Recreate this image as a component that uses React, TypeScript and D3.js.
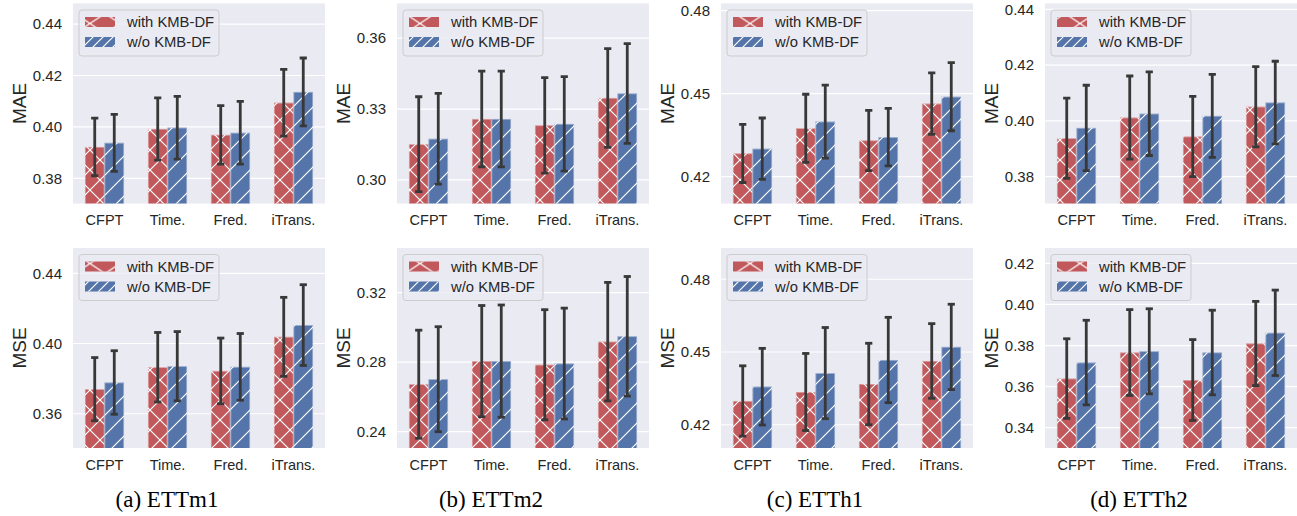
import React from 'react';
import * as d3 from 'd3';

// categories / datasets
const categories = ['CFPT', 'Time.', 'Fred.', 'iTrans.'];
const captions = ['(a) ETTm1', '(b) ETTm2', '(c) ETTh1', '(d) ETTh2'];
const seriesNames = ['with KMB-DF', 'w/o KMB-DF'];

// MAE (top row), one list per dataset
const maeWith = [
  [0.3922, 0.3992, 0.3969, 0.4094],
  [0.3151, 0.3258, 0.3231, 0.3347],
  [0.4284, 0.4375, 0.4331, 0.4464],
  [0.3938, 0.4012, 0.3944, 0.4051],
];
const maeWithErr = [
  [0.0112, 0.0121, 0.0114, 0.013],
  [0.0201, 0.0203, 0.0202, 0.0209],
  [0.0105, 0.0123, 0.0109, 0.0111],
  [0.0144, 0.0149, 0.0144, 0.0144],
];
const maeWithout = [
  [0.3938, 0.3997, 0.3977, 0.4136],
  [0.3174, 0.3258, 0.3237, 0.3366],
  [0.4301, 0.4399, 0.4343, 0.4489],
  [0.3975, 0.4026, 0.4018, 0.4066],
];
const maeWithoutErr = [
  [0.0111, 0.0122, 0.0122, 0.0132],
  [0.0192, 0.0203, 0.02, 0.0211],
  [0.0111, 0.0132, 0.0104, 0.0123],
  [0.0153, 0.015, 0.0149, 0.0148],
];

// MSE (bottom row)
const mseWith = [
  [0.374, 0.3865, 0.3844, 0.4038],
  [0.2673, 0.2806, 0.2785, 0.2918],
  [0.4298, 0.4335, 0.4368, 0.4463],
  [0.3639, 0.3766, 0.3632, 0.381],
];
const mseWithErr = [
  [0.018, 0.0198, 0.0187, 0.0225],
  [0.0311, 0.032, 0.0317, 0.0341],
  [0.0145, 0.0159, 0.0168, 0.0154],
  [0.0194, 0.0209, 0.0197, 0.0205],
];
const mseWithout = [
  [0.3778, 0.3871, 0.3867, 0.4105],
  [0.2702, 0.2806, 0.2792, 0.2949],
  [0.4357, 0.4413, 0.4467, 0.4521],
  [0.3717, 0.3772, 0.3766, 0.3862],
];
const mseWithoutErr = [
  [0.0181, 0.0197, 0.019, 0.023],
  [0.0302, 0.0323, 0.0319, 0.0344],
  [0.0158, 0.0188, 0.0176, 0.0176],
  [0.0206, 0.0207, 0.0206, 0.0208],
];

// axis limits and ticks
const maeLimits = [[0.3702, 0.448], [0.29, 0.3747], [0.4103, 0.4826], [0.3704, 0.4421]];
const mseLimits = [[0.3405, 0.4544], [0.2306, 0.3457], [0.4104, 0.4929], [0.3301, 0.4275]];
const maeTicks = [
  [0.38, 0.4, 0.42, 0.44],
  [0.3, 0.33, 0.36],
  [0.42, 0.45, 0.48],
  [0.38, 0.4, 0.42, 0.44],
];
const mseTicks = [
  [0.36, 0.4, 0.44],
  [0.24, 0.28, 0.32],
  [0.42, 0.45, 0.48],
  [0.34, 0.36, 0.38, 0.4, 0.42],
];

const W = 1297;
const H = 516;
const plotW = 252;
const plotH = 200;
const colStep = 324;
const firstLeft = 73;
const rowTops = [3.5, 248];
const RED = '#c0585c';
const BLUE = '#5474aa';
const BG = '#eaeaf2';
const TXT = '#262626';
const ERR = '#383838';
const sans = "'Liberation Sans', Arial, sans-serif";

type PanelProps = {
  col: number;
  row: number;
  label: string;
  withVals: number[];
  withErr: number[];
  woVals: number[];
  woErr: number[];
  limits: number[];
  ticks: number[];
};

const Panel = ({ col, row, label, withVals, withErr, woVals, woErr, limits, ticks }: PanelProps) => {
  const left = firstLeft + col * colStep;
  const top = rowTops[row];
  const bottom = top + plotH;
  const x = d3.scaleBand<string>().domain(categories).range([left, left + plotW]).padding(0);
  const y = d3.scaleLinear().domain(limits).range([bottom, top]);
  const bw = x.bandwidth() * 0.31;
  const fmt = d3.format('.2f');
  const clipId = `clip-${row}-${col}`;
  const series = [
    { vals: withVals, err: withErr, color: RED, hatch: 'hatch-x', off: -bw },
    { vals: woVals, err: woErr, color: BLUE, hatch: 'hatch-s', off: 0 },
  ];

  return (
    <g>
      <clipPath id={clipId}>
        <rect x={left} y={top} width={plotW} height={plotH} />
      </clipPath>
      <rect x={left} y={top} width={plotW} height={plotH} fill={BG} />
      {ticks.map(t => (
        <g key={t}>
          <line x1={left} x2={left + plotW} y1={y(t)} y2={y(t)} stroke="#fff" strokeWidth={1.2} />
          <text x={left - 11} y={y(t)} dy="0.35em" textAnchor="end" fontSize={15} fill={TXT} fontFamily={sans}>
            {fmt(t)}
          </text>
        </g>
      ))}
      <g clipPath={`url(#${clipId})`}>
        {series.map((s, si) =>
          categories.map((c, i) => {
            const bx = (x(c) as number) + x.bandwidth() / 2 + s.off;
            const by = y(s.vals[i]);
            return (
              <g key={`${si}-${c}`}>
                <rect x={bx} y={by} width={bw} height={bottom - by + 2} fill={s.color} />
                <rect x={bx} y={by} width={bw} height={bottom - by + 2} fill={`url(#${s.hatch})`} />
                <rect x={bx + 0.4} y={by + 0.4} width={bw - 0.8} height={bottom - by + 2} fill="none" stroke="#fff" strokeOpacity={0.45} strokeWidth={0.8} />
              </g>
            );
          })
        )}
        {series.map((s, si) =>
          categories.map((c, i) => {
            const cx = (x(c) as number) + x.bandwidth() / 2 + s.off + bw / 2;
            const y1 = y(s.vals[i] + s.err[i]);
            const y0 = y(s.vals[i] - s.err[i]);
            return (
              <g key={`e-${si}-${c}`} stroke={ERR} strokeWidth={2.8}>
                <line x1={cx} x2={cx} y1={y1} y2={y0} />
                <line x1={cx - 3.6} x2={cx + 3.6} y1={y1} y2={y1} />
                <line x1={cx - 3.6} x2={cx + 3.6} y1={y0} y2={y0} />
              </g>
            );
          })
        )}
      </g>
      {categories.map(c => (
        <text key={c} x={(x(c) as number) + x.bandwidth() / 2} y={bottom + 21.5} textAnchor="middle" fontSize={14.5} fill={TXT} fontFamily={sans}>
          {c}
        </text>
      ))}
      <text
        transform={`translate(${left - 54},${(top + bottom) / 2}) rotate(-90)`}
        textAnchor="middle"
        dy="0.35em"
        fontSize={19}
        fill={TXT}
        fontFamily={sans}
      >
        {label}
      </text>
      {/* legend */}
      <g>
        <rect x={left + 6} y={top + 6.5} width={140} height={46} rx={3} fill={BG} fillOpacity={0.8} stroke="#cccccc" strokeWidth={1} />
        {seriesNames.map((n, i) => (
          <g key={n}>
            <rect x={left + 12} y={top + 13.5 + i * 20} width={30} height={10} fill={i === 0 ? RED : BLUE} />
            <rect x={left + 12} y={top + 13.5 + i * 20} width={30} height={10} fill={`url(#${i === 0 ? 'leg-x' : 'leg-s'})`} />
            <text x={left + 54} y={top + 18.5 + i * 20} dy="0.35em" fontSize={14.8} fill={TXT} fontFamily={sans}>
              {n}
            </text>
          </g>
        ))}
      </g>
    </g>
  );
};

const App = () => {
  return (
    <div style={{ position: 'absolute', left: 0, top: 0 }}>
      <svg width={W} height={H} style={{ display: 'block', background: '#fff' }}>
        <defs>
          <pattern id="hatch-x" patternUnits="userSpaceOnUse" width={20} height={20}>
            <path d="M0,0 L20,20 M20,0 L0,20" stroke="#fff" strokeWidth={1.2} />
          </pattern>
          <pattern id="hatch-s" patternUnits="userSpaceOnUse" width={20} height={20}>
            <path d="M-5,5 L5,-5 M0,20 L20,0 M15,25 L25,15" stroke="#fff" strokeWidth={1.2} />
          </pattern>
          <pattern id="leg-x" patternUnits="userSpaceOnUse" width={30} height={20} x={0} y={3.5}>
            <path d="M0,0 L15,10 L30,0 M0,20 L15,10 L30,20" stroke="#fff" strokeWidth={1.2} fill="none" />
          </pattern>
          <pattern id="leg-s" patternUnits="userSpaceOnUse" width={10} height={10}>
            <path d="M-3,3 L3,-3 M0,10 L10,0 M7,13 L13,7" stroke="#fff" strokeWidth={1.2} />
          </pattern>
        </defs>
        {captions.map((cap, i) => (
          <g key={cap}>
            <Panel
              col={i}
              row={0}
              label="MAE"
              withVals={maeWith[i]}
              withErr={maeWithErr[i]}
              woVals={maeWithout[i]}
              woErr={maeWithoutErr[i]}
              limits={maeLimits[i]}
              ticks={maeTicks[i]}
            />
            <Panel
              col={i}
              row={1}
              label="MSE"
              withVals={mseWith[i]}
              withErr={mseWithErr[i]}
              woVals={mseWithout[i]}
              woErr={mseWithoutErr[i]}
              limits={mseLimits[i]}
              ticks={mseTicks[i]}
            />
            <text
              x={firstLeft + i * colStep + 94}
              y={506.5}
              textAnchor="middle"
              fontSize={23}
              fill="#000"
              fontFamily="'Liberation Serif', 'Times New Roman', serif"
            >
              {cap}
            </text>
          </g>
        ))}
      </svg>
    </div>
  );
};

export default App;
